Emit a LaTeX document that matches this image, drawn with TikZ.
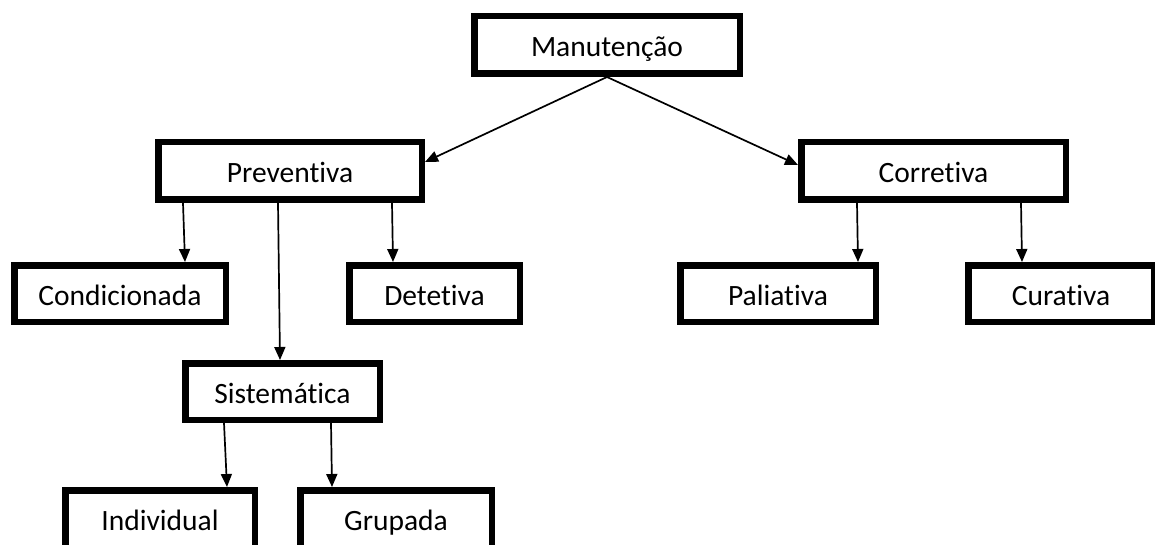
\documentclass[tikz,border=0pt]{standalone}
\usepackage{fontspec}
\setmainfont[Ligatures={NoCommon}]{Carlito}
\usetikzlibrary{arrows.meta}
\tikzset{
  box/.style={draw=black, fill=white, line width=6.5pt, inner sep=0pt,
    text height=25pt, text depth=2pt,
    font=\fontsize{29.5}{34}\selectfont},
  arr/.style={draw=black, line width=1.7pt, -{Triangle[length=13pt,width=11pt]}}
}
\begin{document}
\begin{tikzpicture}[x=1pt,y=-1pt]
\useasboundingbox (0,0) rectangle (1155,545);
\fill[white] (0,0) rectangle (1155,545);
\clip (0,0) rectangle (1155,545);
% nodes (size = outer size - line width)
\node[box, minimum width=265.5pt, minimum height=57.5pt] (M)  at (607,45)    {Manutenção};
\node[box, minimum width=263.5pt, minimum height=57.5pt] (Pv) at (290,171)   {Preventiva};
\node[box, minimum width=264.5pt, minimum height=57.5pt] (Co) at (933.5,171) {Corretiva};
\node[box, minimum width=211.5pt, minimum height=56.5pt] (Cd) at (120,293.5) {Condicionada};
\node[box, minimum width=170.5pt, minimum height=56.5pt] (Dt) at (434.5,293.5) {Detetiva};
\node[box, minimum width=195.5pt, minimum height=56.5pt] (Pa) at (778,293.5) {Paliativa};
\node[box, minimum width=185.5pt, minimum height=56.5pt] (Cu) at (1061,293.5) {Curativa};
\node[box, minimum width=194.5pt, minimum height=56.5pt] (Si) at (282.5,391.5) {Sistemática};
\node[box, minimum width=189.5pt, minimum height=57.5pt] (In) at (160,519)   {Individual};
\node[box, minimum width=191.5pt, minimum height=57.5pt] (Gr) at (396,519)   {Grupada};
% connectors
\draw[arr] (M.south) -- ([yshift=9pt]Pv.east);
\draw[arr] (M.south) -- ([yshift=6pt]Co.west);
\draw[arr] ([xshift=28pt]Pv.south west)  -- ([xshift=174pt]Cd.north west);
\draw[arr] ([xshift=123pt]Pv.south west) -- ([xshift=98pt]Si.north west);
\draw[arr] ([xshift=237pt]Pv.south west) -- ([xshift=47pt]Dt.north west);
\draw[arr] ([xshift=59pt]Co.south west)  -- ([xshift=181pt]Pa.north west);
\draw[arr] ([xshift=223pt]Co.south west) -- ([xshift=57pt]Cu.north west);
\draw[arr] ([xshift=42pt]Si.south west)  -- ([xshift=165pt]In.north west);
\draw[arr] ([xshift=149pt]Si.south west) -- ([xshift=35pt]Gr.north west);
\end{tikzpicture}
\end{document}
